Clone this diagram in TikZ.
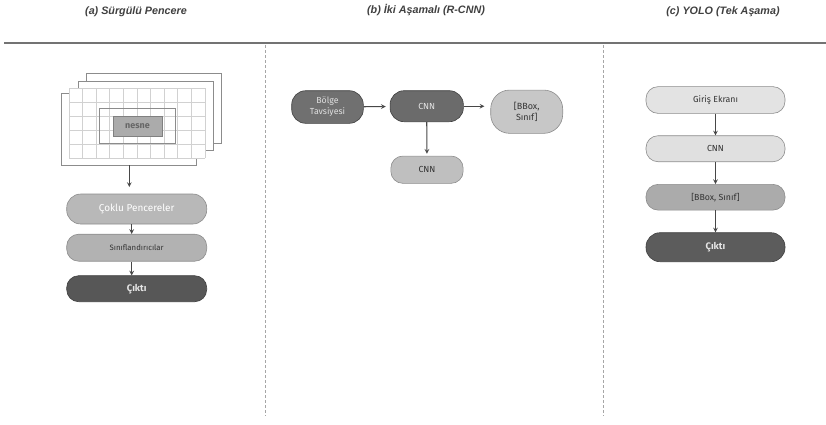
\documentclass[tikz,border=0pt]{standalone}
\usepackage{fontspec}
\setmainfont{Fira Sans}
\newfontfamily\baslikfont{Liberation Sans}
\usetikzlibrary{positioning}

\tikzset{
  kutu/.style={rounded corners=12bp, draw=black!45, line width=0.6bp, minimum height=26bp, inner sep=1bp, align=center, font=\fontsize{8.8}{10}\selectfont},
  acik/.style={kutu, fill=black!11, text=black!80},
  orta/.style={kutu, fill=black!33, text=black!80},
  koyu/.style={kutu, fill=black!66, draw=black!75, text=white!90!black},
  ok/.style={->, >=stealth, draw=black!72, line width=1.1bp},
  pencere/.style={draw=black!45, line width=0.7bp, fill=white},
  baslik/.style={font=\baslikfont\fontsize{10.8}{13}\selectfont\bfseries\itshape, text=black!75},
}

\begin{document}
\begin{tikzpicture}[x=1bp, y=-1bp]
		\useasboundingbox (0,0) rectangle (826,424);
		% Basliklar
		\node[baslik] (ta) at (136,11.5) {(a) Sürgülü Pencere};
		\node[baslik] (tb) at (426,10.5) {(b) İki Aşamalı (R-CNN)};
		\node[baslik] (tc) at (723,11.5) {(c) YOLO (Tek Aşama)};
		% Ayirici cizgiler
		\draw[black!55, line width=2bp] (4,43.3) -- (826,43.3);
		\draw[black!35, dashed, dash pattern=on 3bp off 2bp, line width=0.7bp] (265,45) -- (265,416);
		\draw[black!35, dashed, dash pattern=on 3bp off 2bp, line width=0.7bp] (603,45) -- (603,416);

		% (a) Kayan pencereler
		\draw[pencere] (86,73.3) rectangle (221,143.3);
		\draw[pencere] (78.3,81.7) rectangle (213.3,150.7);
		\draw[pencere] (61,93) rectangle (196,165);
		\fill[white] (69,88.3) rectangle (205,158.3);
		\foreach \i in {0,...,10}
			\draw[black!18, line width=0.7bp] (69+13.6*\i,88.3) -- (69+13.6*\i,158.3);
		\foreach \j in {0,...,5}
			\draw[black!18, line width=0.7bp] (69,88.3+14*\j) -- (205,88.3+14*\j);
		\draw[black!45, line width=0.7bp] (99.3,108.3) rectangle (175,143.3);
		\node[draw=black!50, fill=black!33, minimum width=49.6bp, minimum height=20bp, inner sep=0pt,
			font=\fontsize{9}{10}\selectfont\bfseries, text=black!60] (nesne) at (137.5,126) {nesne};
		\coordinate (pa) at (129.3,165);
		\coordinate (pb) at (129.3,187);
		\node[orta, fill=black!28, text=white, minimum width=140bp, minimum height=30bp, rounded corners=14bp,
			font=\fontsize{10}{11}\selectfont] (coklu) at (136.7,209) {Çoklu Pencereler};
		\node[orta, fill=black!30, minimum width=140bp, minimum height=27bp,
			font=\fontsize{7.8}{9}\selectfont] (sinif) at (136.7,247.7) {Sınıflandırıcılar};
		\node[koyu, minimum width=140bp, minimum height=26bp,
			font=\fontsize{9.5}{11}\selectfont\bfseries] (ciktia) at (136.7,288.7) {Çıktı};
		\draw[ok] (pa) -- (pb);
		\draw[ok] ([xshift=-5bp]coklu.south) -- ([xshift=-5bp]sinif.north);
		\draw[ok] ([xshift=-5bp]sinif.south) -- ([xshift=-5bp]ciktia.north);

		% (b) Iki asamali
		\node[koyu, fill=black!56, text=black!12, minimum width=71.6bp, minimum height=32.6bp, rounded corners=14bp,
			font=\fontsize{8.8}{11}\selectfont] (bolge) at (327.5,107) {Bölge\\Tavsiyesi};
		\node[koyu, fill=black!58, minimum width=73.3bp, minimum height=31bp, rounded corners=14bp] (cnna) at (426.7,106.2) {CNN};
		\node[orta, fill=black!22, minimum width=72bp, minimum height=43.3bp, rounded corners=19bp,
			font=\fontsize{9}{11.5}\selectfont] (bboxa) at (526.7,111.7) {[BBox,\\Sınıf]};
		\node[orta, fill=black!25, minimum width=72.3bp, minimum height=27.3bp] (cnnb) at (427,169.7) {CNN};
		\draw[ok, shorten >=4bp] (bolge) -- (cnna);
		\draw[ok, shorten >=6bp] (cnna.east) -- (bboxa.west |- cnna.east);
		\draw[ok, shorten >=2bp] (cnna) -- (cnnb);

		% (c) YOLO
		\node[acik, minimum width=139bp, minimum height=26.7bp] (giris) at (715.5,100) {Giriş Ekranı};
		\node[acik, fill=black!12, minimum width=139bp, minimum height=26bp] (cnnc) at (715.5,148.7) {CNN};
		\node[orta, minimum width=139bp, minimum height=25.7bp] (bboxb) at (715.5,197.2) {[BBox, Sınıf]};
		\node[koyu, fill=black!64, minimum width=139bp, minimum height=29bp, rounded corners=14bp,
			font=\fontsize{9.5}{11}\selectfont\bfseries] (ciktic) at (715.5,247.2) {Çıktı};
		\draw[ok] (giris) -- (cnnc);
		\draw[ok] (cnnc) -- (bboxb);
		\draw[ok] (bboxb) -- (ciktic);
\end{tikzpicture}
\end{document}
